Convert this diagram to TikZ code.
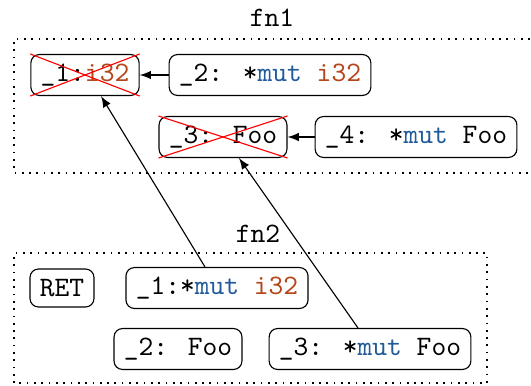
\documentclass[tikz,border=0pt]{standalone}
\usepackage{amsmath}
\usepackage{tikz}
\usepackage{xcolor}

\definecolor{kwblue}{HTML}{215B9B}
\definecolor{tyorange}{HTML}{B4461C}

\newcommand{\kw}[1]{\textcolor{kwblue}{#1}}
\newcommand{\ty}[1]{\textcolor{tyorange}{#1}}

\begin{document}
\begin{tikzpicture}[every node/.style={font=\ttfamily},
                    var/.style={draw, rounded corners=3pt, minimum height=0.5cm, inner xsep=3.5pt},
                    frame/.style={dotted, line width=0.6pt},
                    dead/.style={red, line width=0.4pt}]
            \useasboundingbox (0, 0) rectangle (6.6375, 4.8125);

            % fn1
            \node (fn1) at (3.4, 4.5875) {fn1};
            \draw[frame] (6.9, 4.325) -- (0.175, 4.325) -- (0.175, 2.65) -- (6.9, 2.65);
            \node[var] (a1) at (1.0625, 3.875) {\_1:\ty{i32}};
            \node[var] (a2) at (3.375, 3.875) {\_2: *\kw{mut} \ty{i32}};
            \node[var] (a3) at (2.7875, 3.1) {\_3: Foo};
            \node[var] (a4) at (5.2, 3.1) {\_4: *\kw{mut} Foo};

            \draw[dead] (a1.north west) -- (a1.south east);
            \draw[dead] (a1.south west) -- (a1.north east);
            \draw[dead] (a3.north west) -- (a3.south east);
            \draw[dead] (a3.south west) -- (a3.north east);

            \draw[-latex] (a2) -- (a1);
            \draw[-latex] (a4) -- (a3);

            % fn2
            \node (fn2) at (3.225, 1.8875) {fn2};
            \draw[frame] (0.175, 0.025) rectangle (6.0875, 1.65);
            \node[var, minimum height=0.475cm] (ret) at (0.775, 1.2125) {RET};
            \node[var] (b1) at (2.7125, 1.2125) {\_1:*\kw{mut} \ty{i32}};
            \node[var] (b2) at (2.225, 0.45) {\_2: Foo};
            \node[var] (b3) at (4.625, 0.45) {\_3: *\kw{mut} Foo};

            \draw[-latex] ([xshift=-0.15cm]b1.north) -- ([xshift=0.2cm]a1.south);
            \draw[-latex] ([xshift=-0.15cm]b3.north) -- ([xshift=0.2cm]a3.south);
        \end{tikzpicture}
\end{document}
